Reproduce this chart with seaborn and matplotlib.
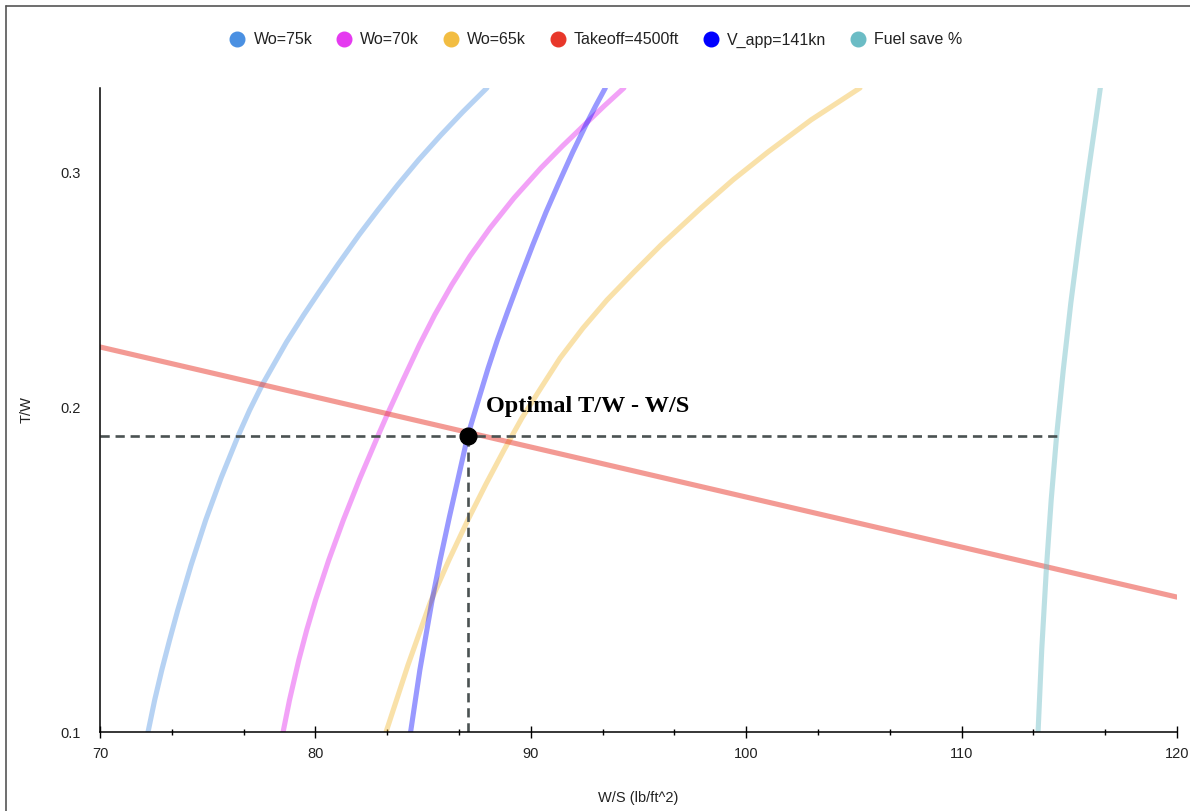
import matplotlib
matplotlib.use("Agg")
import matplotlib.pyplot as plt
import seaborn as sns
from matplotlib.lines import Line2D
from matplotlib.ticker import MultipleLocator, FixedLocator, NullLocator, FixedFormatter

# constraint curves (x = W/S, y = T/W)
ws_75k = [72.23, 72.54, 72.87, 73.23, 73.61, 74.23, 74.91, 75.62, 76.43, 76.95, 77.53,
          78.66, 79.46, 80.17, 81.06, 82.02, 82.90, 83.82, 84.79, 85.82, 86.84, 87.96]
tw_75k = [0.1146, 0.1211, 0.1275, 0.1342, 0.1413, 0.1527, 0.1650, 0.1773, 0.1909, 0.1993, 0.2081,
          0.2240, 0.2347, 0.2441, 0.2561, 0.2692, 0.2810, 0.2934, 0.3063, 0.3196, 0.3326, 0.3466]

ws_70k = [78.50, 78.80, 79.23, 79.60, 80.01, 80.62, 81.30, 82.07, 82.92, 83.37, 84.07,
          84.83, 85.54, 86.33, 87.18, 88.11, 89.22, 90.47, 91.47, 92.47, 93.41, 94.32]
tw_70k = [0.1146, 0.1211, 0.1297, 0.1366, 0.1438, 0.1540, 0.1650, 0.1773, 0.1909, 0.1983, 0.2099,
          0.2229, 0.2347, 0.2471, 0.2597, 0.2725, 0.2869, 0.3021, 0.3137, 0.3251, 0.3361, 0.3466]

ws_65k = [83.28, 84.30, 85.32, 86.20, 87.08, 87.92, 88.76, 89.59, 90.47, 91.36, 92.42,
          93.54, 94.79, 96.04, 97.90, 99.39, 101.01, 103.01, 105.28]
tw_65k = [0.1146, 0.1286, 0.1430, 0.1540, 0.1650, 0.1755, 0.1861, 0.1966, 0.2070, 0.2179, 0.2294,
          0.2408, 0.2526, 0.2646, 0.2820, 0.2960, 0.3105, 0.3281, 0.3466]

ws_takeoff = [70.0, 120.0]
tw_takeoff = [0.2221, 0.1445]

ws_vapp = [84.42, 84.85, 85.42, 85.79, 86.22, 86.63, 87.08, 87.57, 88.02, 88.45, 88.92,
           89.47, 90.09, 90.71, 91.32, 91.93, 92.55, 93.01, 93.46]
tw_vapp = [0.1146, 0.1275, 0.1438, 0.1540, 0.1658, 0.1773, 0.1909, 0.2028, 0.2142, 0.2248, 0.2359,
           0.2492, 0.2646, 0.2801, 0.2949, 0.3100, 0.3251, 0.3361, 0.3466]

ws_fuel = [113.55, 113.72, 113.94, 114.16, 114.41, 114.72, 115.07, 115.45, 115.83, 116.23, 116.44]
tw_fuel = [0.1146, 0.1320, 0.1521, 0.1708, 0.1906, 0.2135, 0.2395, 0.2670, 0.2960, 0.3281, 0.3466]

opt_ws = 87.08
opt_tw = 0.1906
guide_end_ws = 114.41

series_labels = ["Wo=75k", "Wo=70k", "Wo=65k", "Takeoff=4500ft", "V_app=141kn", "Fuel save %"]
series_colors = ["#4a90e2", "#e53af0", "#f2bd42", "#e8372a", "#0000ff", "#6bbcc5"]
series_alpha = [0.4, 0.47, 0.45, 0.5, 0.4, 0.45]

y_min, y_max = 0.1146, 0.3466
y_ticks = [0.1146, 0.2, 0.3]
y_tick_labels = ["0.1", "0.2", "0.3"]

sns.set_theme(style="white")
plt.rcParams["font.family"] = ["Liberation Sans", "DejaVu Sans"]

fig = plt.figure(figsize=(11.9, 8.11), dpi=100)
ax = fig.add_axes([100 / 1190, 1 - 732 / 811, 1077 / 1190, 644 / 811])

curves = [(ws_75k, tw_75k), (ws_70k, tw_70k), (ws_65k, tw_65k),
          (ws_takeoff, tw_takeoff), (ws_vapp, tw_vapp), (ws_fuel, tw_fuel)]
for (xs, ys), c, a in zip(curves, series_colors, series_alpha):
    sns.lineplot(x=xs, y=ys, sort=False, estimator=None, color=c, alpha=a,
                 linewidth=3.7, ax=ax, legend=False)

# guide lines to the optimum
guide = dict(color="#4a5252", linewidth=1.9, dashes=(3.5, 2.2))
ax.plot([70, guide_end_ws], [opt_tw, opt_tw], **guide)
ax.plot([opt_ws, opt_ws], [y_min, opt_tw], **guide)
ax.plot([opt_ws], [opt_tw], marker="o", color="black", markersize=12, zorder=5)
ax.annotate("Optimal T/W - W/S", xy=(opt_ws, opt_tw), xytext=(13, 17),
            textcoords="offset points", ha="left", va="baseline",
            fontfamily="Liberation Serif", fontweight="bold", fontsize=17.5, color="black")

ax.set_yscale("log")
ax.set_xlim(70, 120)
ax.set_ylim(y_min, y_max)
ax.yaxis.set_major_locator(FixedLocator(y_ticks))
ax.yaxis.set_major_formatter(FixedFormatter(y_tick_labels))
ax.yaxis.set_minor_locator(NullLocator())
ax.xaxis.set_major_locator(MultipleLocator(10))
ax.xaxis.set_minor_locator(MultipleLocator(10 / 3))

for s in ["top", "right"]:
    ax.spines[s].set_visible(False)
for s in ["left", "bottom"]:
    ax.spines[s].set_color("black")
    ax.spines[s].set_linewidth(1.1)

ax.tick_params(axis="x", which="major", direction="inout", length=9, width=1,
               color="black", labelsize=10.5, labelcolor="#222222", pad=6, bottom=True)
ax.tick_params(axis="x", which="minor", direction="inout", length=5, width=1,
               color="black", bottom=True)
ax.tick_params(axis="y", which="major", length=0, labelsize=10.5,
               labelcolor="#222222", pad=14, left=True)

ax.set_xlabel("W/S (lb/ft^2)", fontsize=10.5, color="#222222")
ax.set_ylabel("T/W", fontsize=10.5, color="#222222")
ax.xaxis.set_label_coords(0.5, -0.092)
ax.yaxis.set_label_coords(-0.062, 0.5)
ax.grid(False)

handles = [Line2D([], [], marker="o", linestyle="", color=c, markersize=10.5)
           for c in series_colors]
fig.legend(handles, series_labels, loc="center", bbox_to_anchor=(596 / 1190, 1 - 40 / 811),
           ncol=6, frameon=False, fontsize=11.5, handletextpad=0.5,
           columnspacing=1.5, handlelength=1.0, labelcolor="#222222")

# outer frame of the chart card (left and top edges show in the crop)
fig.add_artist(Line2D([6 / 1190, 6 / 1190], [0, 1 - 6 / 811], transform=fig.transFigure,
                      color="#555555", linewidth=1.2))
fig.add_artist(Line2D([6 / 1190, 1], [1 - 6 / 811, 1 - 6 / 811], transform=fig.transFigure,
                      color="#555555", linewidth=1.2))

fig.savefig("out.png", dpi=100)
